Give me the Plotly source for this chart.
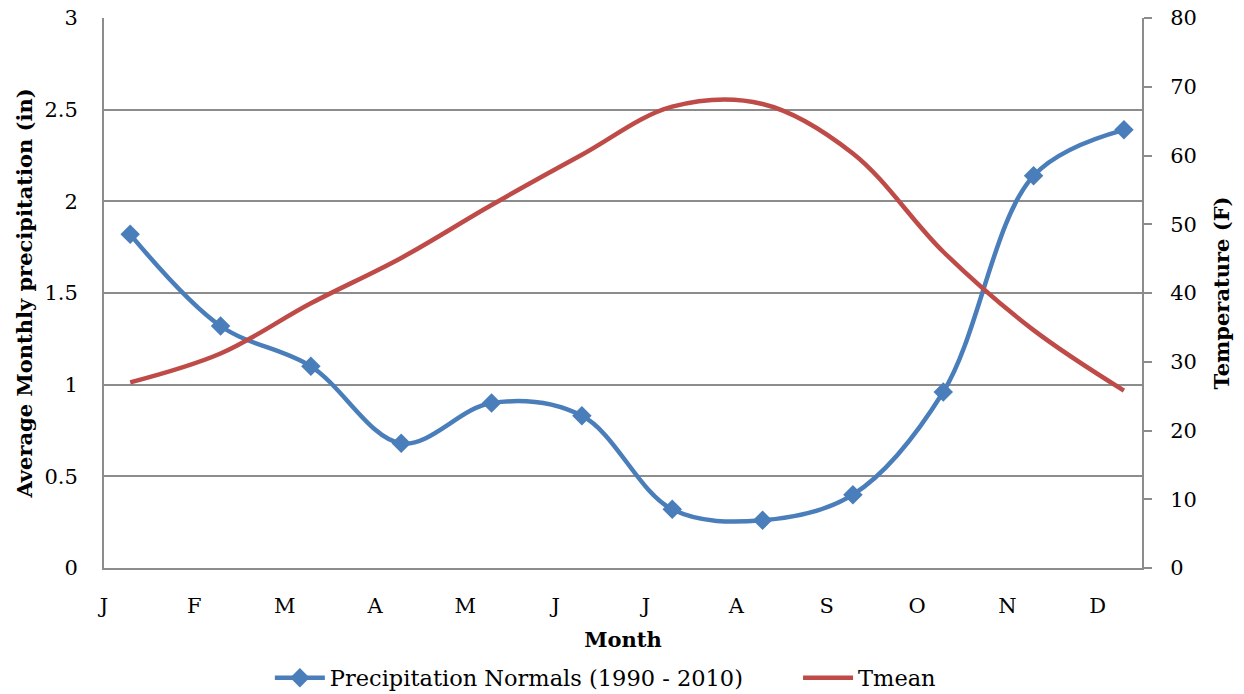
import plotly.graph_objects as go

months = ["J", "F", "M", "A", "M", "J", "J", "A", "S", "O", "N", "D"]
month_ticks = [0, 1, 2, 3, 4, 5, 6, 7, 8, 9, 10, 11]
x_pos = [0.29, 1.29, 2.29, 3.29, 4.29, 5.29, 6.29, 7.29, 8.29, 9.29, 10.29, 11.29]
precip = [1.82, 1.32, 1.10, 0.68, 0.90, 0.83, 0.32, 0.26, 0.40, 0.96, 2.14, 2.39]
tmean = [27.0, 31.2, 38.5, 45.1, 52.8, 60.1, 67.1, 67.5, 60.3, 46.0, 34.6, 25.8]

FONT = "DejaVu Serif"
BLUE = "#4A7EBB"
RED = "#BE4B48"
GRID = "#8C8C8C"
GAP = "\u00a0" * 7

fig = go.Figure()
fig.add_trace(go.Scatter(
    x=x_pos, y=precip, name="Precipitation Normals (1990 - 2010)" + GAP,
    mode="lines+markers",
    line=dict(color=BLUE, width=4.5, shape="spline", smoothing=1.0),
    marker=dict(symbol="diamond", size=15, color=BLUE),
    yaxis="y",
))
fig.add_trace(go.Scatter(
    x=x_pos, y=tmean, name="Tmean",
    mode="lines",
    line=dict(color=RED, width=4.5, shape="spline", smoothing=1.0),
    yaxis="y2",
))

fig.update_layout(
    width=1244, height=694,
    margin=dict(l=104, r=102, t=18, b=126, autoexpand=False),
    paper_bgcolor="white", plot_bgcolor="white",
    font=dict(family=FONT, size=21, color="black"),
    showlegend=True,
    legend=dict(orientation="h", x=0.483, xanchor="center", y=-0.2, yanchor="middle",
                font=dict(family=FONT, size=22.5), itemwidth=50, tracegroupgap=0),
    xaxis=dict(
        range=[0, 11.49], tickmode="array", tickvals=month_ticks, ticktext=months,
        showgrid=False, zeroline=False, showline=True, linecolor=GRID, linewidth=2,
        ticks="", ticklabelstandoff=18,
        title=dict(text="<b>Month</b>", font=dict(family=FONT, size=21), standoff=15),
    ),
    yaxis=dict(
        range=[0, 3], dtick=0.5, showgrid=True, gridcolor=GRID, gridwidth=1.5,
        zeroline=False, showline=True, linecolor=GRID, linewidth=2, ticks="",
        ticklabelstandoff=20,
        title=dict(text="<b>Average Monthly precipitation (in)</b>", font=dict(family=FONT, size=21), standoff=6),
    ),
    yaxis2=dict(
        range=[0, 80], dtick=10, overlaying="y", side="right", showgrid=False,
        zeroline=False, showline=True, linecolor=GRID, linewidth=2,
        ticks="outside", ticklen=8, tickwidth=2, tickcolor=GRID, ticklabelstandoff=14,
        title=dict(text="<b>Temperature (F)</b>", font=dict(family=FONT, size=21), standoff=18),
    ),
)

fig.write_html("out.html")
